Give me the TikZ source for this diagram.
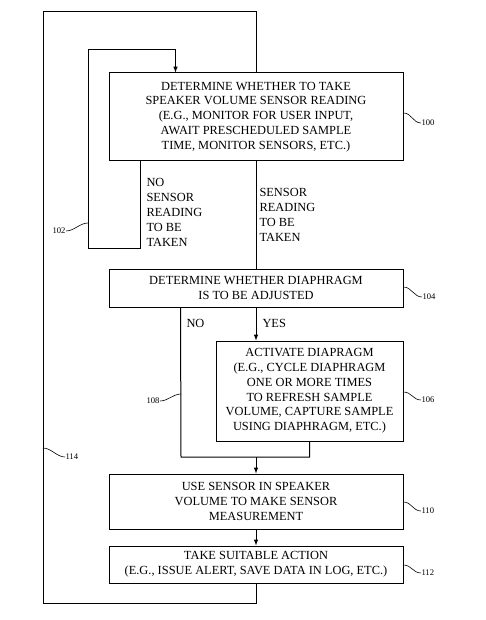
\documentclass[tikz,border=0pt]{standalone}
\usepackage{fontspec}
\setmainfont{Liberation Serif}
\usepackage{tikz}
\tikzset{>=latex}

\begin{document}
\begin{tikzpicture}[x=1pt, y=-1pt, line width=1pt,
    box/.style={draw, align=center, inner sep=1pt, minimum width=294pt, font=\fontsize{12.4}{14.8}\selectfont},
    lbl/.style={inner sep=0pt, align=left, font=\fontsize{12.4}{15}\selectfont},
    ref/.style={inner sep=0pt, font=\fontsize{8.6}{9}\selectfont}]
    \useasboundingbox(0, 0) rectangle (485, 620);
    \node[box, minimum height=88pt](b100)at(256, 117){DETERMINE WHETHER TO TAKE\\SPEAKER VOLUME SENSOR READING\\(E.G., MONITOR FOR USER INPUT,\\AWAIT PRESCHEDULED SAMPLE\\TIME, MONITOR SENSORS, ETC.)};
    \node[box, minimum height=38pt](b104)at(256, 288){DETERMINE WHETHER DIAPHRAGM\\IS TO BE ADJUSTED};
    \node[box, minimum width=187pt, minimum height=100pt](b106)at(309.5, 391){ACTIVATE DIAPRAGM\\(E.G., CYCLE DIAPHRAGM\\ONE OR MORE TIMES\\TO REFRESH SAMPLE\\VOLUME, CAPTURE SAMPLE\\USING DIAPHRAGM, ETC.)};
    \node[box, minimum height=55pt](b110)at(256, 501.5){USE SENSOR IN SPEAKER\\VOLUME TO MAKE SENSOR\\MEASUREMENT};
    \node[box, minimum height=37pt](b112)at(256, 564.5){TAKE SUITABLE ACTION\\(E.G., ISSUE ALERT, SAVE DATA IN LOG, ETC.)};
    % loops and branches
    \coordinate(outer)at(43, 12);
    \coordinate(inner)at(88, 50);
    \coordinate(join)at(181, 457);
    \draw(b112.south)--++(0, 20)-|(outer)-|(b100.north);
    \draw[->]([xshift=32pt]b100.south west)--++(0, 87)-|(inner)-|([xshift=67pt]b100.north west);
    \draw(b100.south)--(b104.north);
    \draw[->](b104.south)--(b104.south |- b106.north);
    \draw([xshift=72pt]b104.south west)--(join)-|(b106.south);
    \draw[->](b110.north |- join)--(b110.north);
    \draw[->](b110.south)--(b112.north);
    \node[lbl, anchor=north west](nosens)at(146, 178){NO\\SENSOR\\READING\\TO BE\\TAKEN};
    \node[lbl, anchor=north west](sens)at(259, 188){SENSOR\\READING\\TO BE\\TAKEN};
    \node[lbl, anchor=west](no)at(186, 323){NO};
    \node[lbl, anchor=west](yes)at(262, 323){YES};
    % reference numerals
    \node[ref, anchor=west](r100)at(421, 123){100};
    \node[ref, anchor=east](r102)at(66, 231){102};
    \node[ref, anchor=west](r104)at(422, 297){104};
    \node[ref, anchor=west](r106)at(421, 400){106};
    \node[ref, anchor=east](r108)at(160, 401){108};
    \node[ref, anchor=west](r110)at(421, 511){110};
    \node[ref, anchor=west](r112)at(421, 573){112};
    \node[ref, anchor=west](r114)at(65, 457){114};
    \draw[line width=.6pt](r100.west)..controls +(-8, 0) and +(8, 0)..(b100.east |- 0, 113);
    \draw[line width=.6pt](r104.west)..controls +(-8, 0) and +(8, 0)..(b104.east |- 0, 287);
    \draw[line width=.6pt](r106.west)..controls +(-8, 0) and +(8, 0)..(b106.east |- 0, 392);
    \draw[line width=.6pt](r110.west)..controls +(-8, 0) and +(8, 0)..(b110.east |- 0, 502);
    \draw[line width=.6pt](r112.west)..controls +(-8, 0) and +(8, 0)..(b112.east |- 0, 565);
    \draw[line width=.6pt](r114.west)..controls +(-8, 0) and +(8, 0)..(outer |- 0, 448);
    \draw[line width=.6pt](r102.east)..controls +(8, 0) and +(-8, 0)..(inner |- 0, 223);
    \draw[line width=.6pt](r108.east)..controls +(8, 0) and +(-8, 0)..(join |- 0, 394);
\end{tikzpicture}
\end{document}
